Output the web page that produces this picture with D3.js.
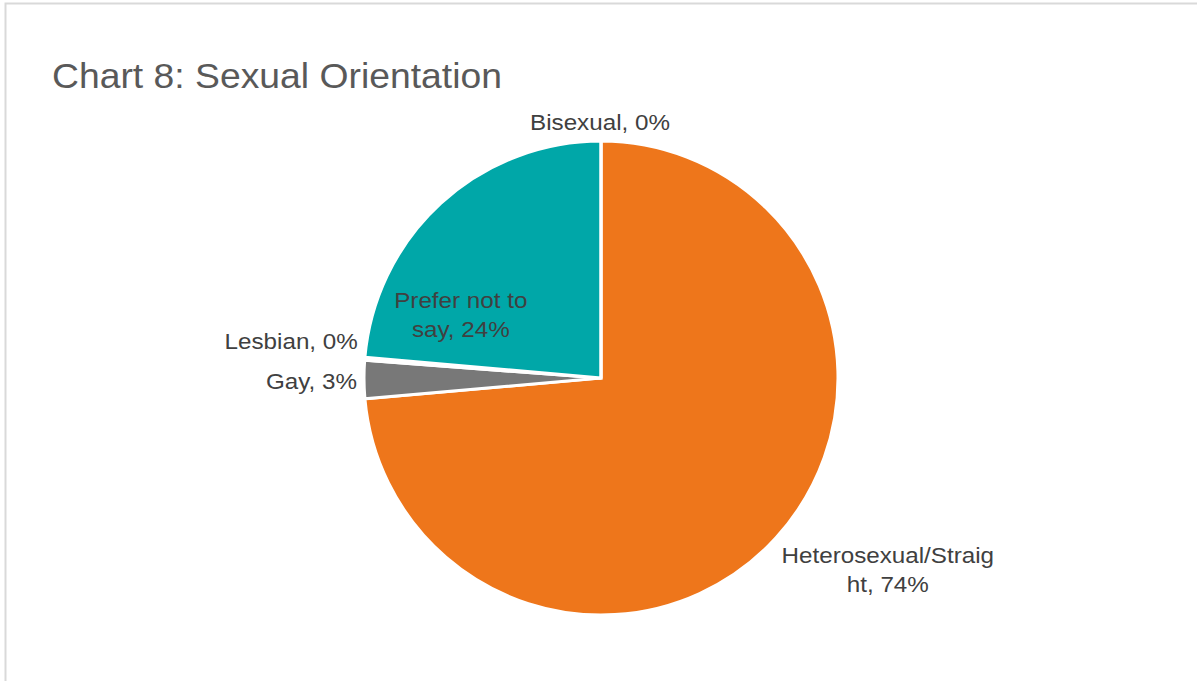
<!DOCTYPE html>
<html>
<head>
<meta charset="utf-8">
<script src="https://cdn.jsdelivr.net/npm/d3@7/dist/d3.min.js"></script>
<style>
  html, body { margin: 0; padding: 0; background: #fff; }
  svg { display: block; }
  text { font-family: "Liberation Sans", Arial, sans-serif; }
</style>
</head>
<body>
<svg id="chart" width="1197" height="681"></svg>
<script>
// Survey responses, share of respondents (%)
const categories = ["Heterosexual/Straight", "Gay", "Lesbian", "Prefer not to say", "Bisexual"];
const shares = [73.6, 2.6, 0.2, 23.6, 0.0];
const sliceColors = ["#EE761B", "#787878", "#5B9BD5", "#00A7A8", "#FFC000"];
// How each data label is broken into lines (as wrapped in the chart)
const labelLines = [
  ["Heterosexual/Straig", "ht, {p}"],
  ["Gay, {p}"],
  ["Lesbian, {p}"],
  ["Prefer not to", "say, {p}"],
  ["Bisexual, {p}"]
];

const width = 1197, height = 681;
const cx = 601, cy = 378, radius = 237;
const textStretch = 1.1;   // labels render slightly wide

const svg = d3.select("#chart");

// chart frame
svg.append("path")
  .attr("d", `M5.5,${height} V3.5 H${width}`)
  .attr("fill", "none")
  .attr("stroke", "#D9D9D9")
  .attr("stroke-width", 2);

// title
svg.append("text")
  .attr("x", 52)
  .attr("y", 88)
  .attr("font-size", 35)
  .attr("fill", "#595959")
  .attr("textLength", 450)
  .attr("lengthAdjust", "spacingAndGlyphs")
  .text("Chart 8: Sexual Orientation");

const data = categories.map((c, i) => ({ name: c, value: shares[i], color: sliceColors[i], lines: labelLines[i] }));
const total = d3.sum(shares);

const pie = d3.pie().value(d => d.value).sort(null);
const arcs = pie(data);
const arc = d3.arc().innerRadius(0).outerRadius(radius);

const g = svg.append("g").attr("transform", `translate(${cx},${cy})`);

g.selectAll("path.slice")
  .data(arcs)
  .join("path")
  .attr("class", "slice")
  .attr("d", arc)
  .attr("fill", d => d.data.color)
  .attr("stroke", "#fff")
  .attr("stroke-width", 3)
  .attr("stroke-linejoin", "miter");

// label placement: distance from centre (fraction of radius), nudges, anchor
const labelLayout = {
  "Heterosexual/Straight": { r: 1.0, dx: 112, dy: 33, anchor: "middle" },
  "Gay": { r: 1.0, dx: -7, dy: 3, anchor: "end" },
  "Lesbian": { r: 1.0, dx: -7, dy: -16, anchor: "end" },
  "Prefer not to say": { r: 0.62, dx: -41, dy: 47, anchor: "middle" },
  "Bisexual": { r: 1.0, dx: -1, dy: -17, anchor: "middle" }
};
const lineHeight = 29;

g.selectAll("text.lbl")
  .data(arcs)
  .join("text")
  .attr("class", "lbl")
  .attr("font-size", 22)
  .attr("fill", "#404040")
  .each(function(d) {
    const L = labelLayout[d.data.name];
    const mid = (d.startAngle + d.endAngle) / 2;
    const x = Math.sin(mid) * radius * L.r + L.dx;
    const y = -Math.cos(mid) * radius * L.r + L.dy;
    const pct = Math.round(d.data.value / total * 100) + "%";
    const t = d3.select(this).attr("text-anchor", L.anchor);
    const n = d.data.lines.length;
    d.data.lines.forEach((ln, k) => {
      const ts = t.append("tspan")
        .attr("x", x)
        .attr("y", y + (k - (n - 1) / 2) * lineHeight + 6)
        .text(ln.replace("{p}", pct));
      const w = ts.node().getComputedTextLength();
      ts.attr("textLength", w * textStretch).attr("lengthAdjust", "spacingAndGlyphs");
    });
  });
</script>
</body>
</html>
